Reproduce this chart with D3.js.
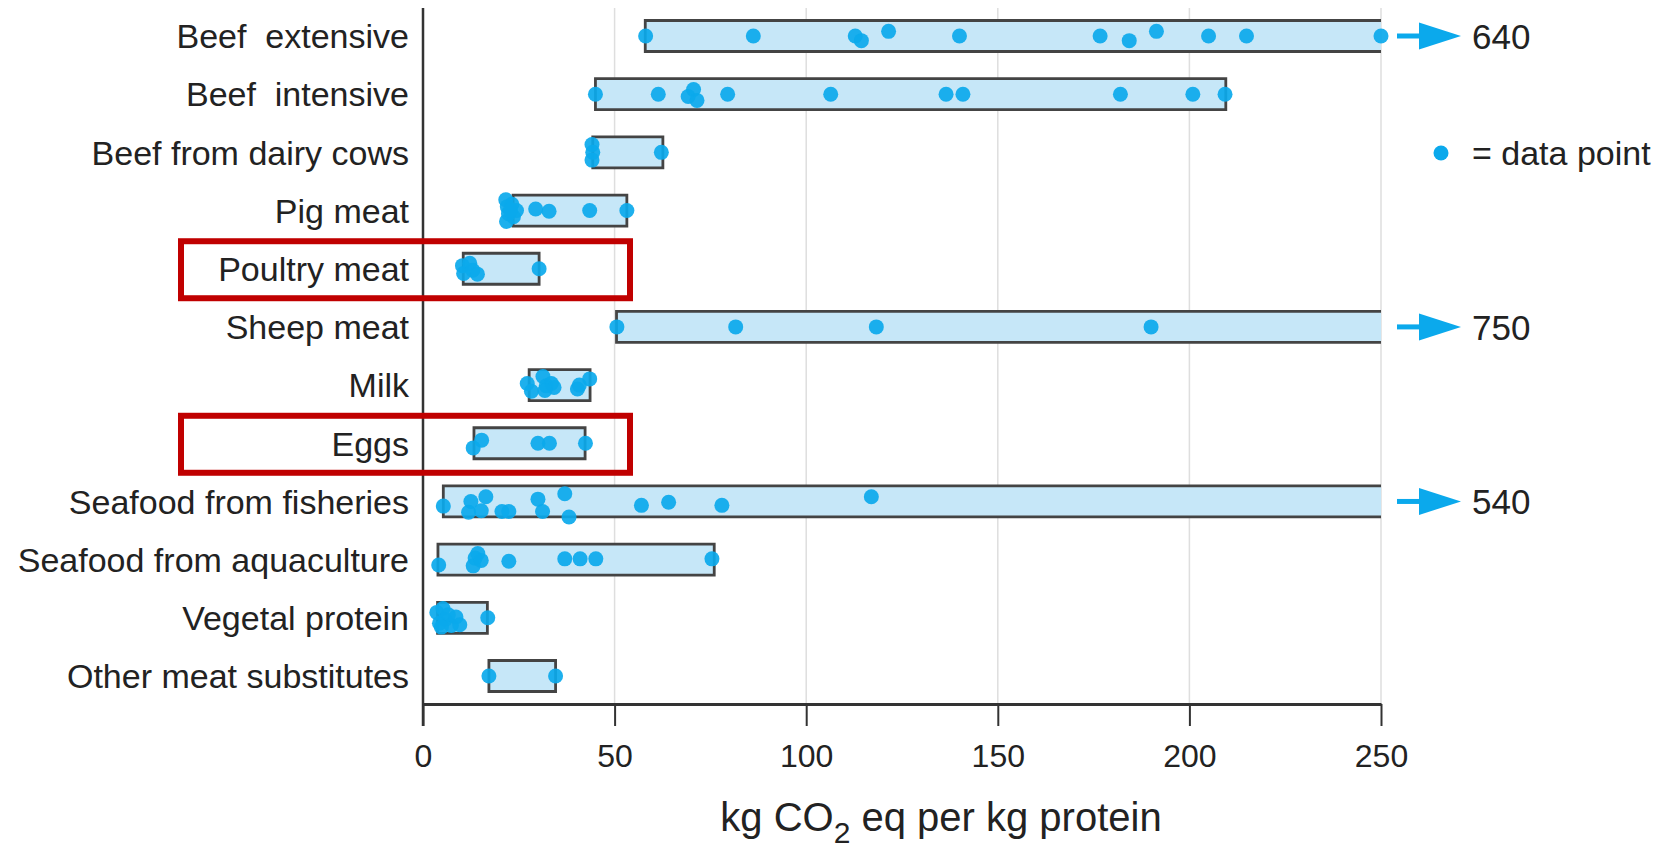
<!DOCTYPE html>
<html>
<head>
  <meta charset="utf-8">
  <title>kg CO2 eq per kg protein</title>
  <style>
    body { margin: 0; background: #fff; }
    svg text { font-family: "Liberation Sans", Arial, sans-serif; fill: #222; }
  </style>
</head>
<body>
  <div id="chart"></div>

  <script src="https://cdn.jsdelivr.net/npm/d3@7"></script>
  <script type="text/javascript">

  var categories = ["Beef  extensive", "Beef  intensive", "Beef from dairy cows", "Pig meat",
                    "Poultry meat", "Sheep meat", "Milk", "Eggs", "Seafood from fisheries",
                    "Seafood from aquaculture", "Vegetal protein", "Other meat substitutes"];

  // low / high end of each range (kg CO2 eq per kg protein)
  var rangeMin = [58, 45, 44.3, 23.5, 10.5, 50.5, 27.7, 13.3, 5.3, 3.9, 3.8, 17.2];
  var rangeMax = [640, 209.5, 62.6, 53.2, 30.3, 750, 43.6, 42.3, 540, 76, 16.8, 34.6];

  // data points: [value, jitter] (jitter = spread inside the bar, -1..1)
  var points = [
    [[58.1,0],[86.2,0],[112.8,0],[114.4,0.3],[121.5,-0.3],[140,0],[176.7,0],[184.3,0.3],[191.4,-0.3],[205,0],[214.9,0],[640,0]],
    [[45,0],[61.4,0],[69.2,0.15],[70.6,-0.3],[71.5,0.4],[79.5,0],[106.4,0],[136.5,0],[140.9,0],[182,0],[200.9,0],[209.3,0]],
    [[44.1,-0.5],[44.3,0],[44.1,0.5],[62.2,0]],
    [[21.6,-0.7],[22.0,-0.25],[22.3,0.2],[21.8,0.7],[23.2,-0.4],[23.6,0.4],[24.4,0],[22.8,0],[29.4,-0.1],[32.9,0.05],[43.5,0],[53.2,0]],
    [[10.3,-0.2],[10.6,0.3],[12.2,-0.35],[13,0.1],[14.2,0.35],[30.3,0]],
    [[50.6,0],[81.6,0],[118.3,0],[190,0]],
    [[27.2,-0.1],[28.3,0.4],[31.3,-0.55],[32.2,0.05],[33.5,-0.1],[34.2,0.15],[31.8,0.35],[40.3,0.25],[40.8,0],[43.5,-0.4]],
    [[13.1,0.3],[15.3,-0.2],[30,0],[33,0],[42.4,0]],
    [[5.3,0.3],[12.5,0],[11.9,0.7],[15.2,0.6],[16.4,-0.3],[20.6,0.65],[22.4,0.65],[30,-0.15],[31.2,0.65],[37,-0.5],[38.1,1.0],[57,0.25],[64.1,0.05],[78,0.25],[117,-0.3]],
    [[4.1,0.35],[13.1,0.4],[13.6,-0.1],[14.3,-0.4],[15.2,0.05],[22.4,0.1],[37,-0.05],[41,-0.05],[45.1,-0.05],[75.4,-0.05]],
    [[3.6,-0.35],[4.3,0.35],[5.2,-0.6],[5.8,0.1],[6.6,-0.2],[7.4,0.5],[8.6,-0.05],[9.6,0.45],[4.8,0.6],[16.9,0]],
    [[17.2,0],[34.6,0]]
  ];

  var xTicks = [0, 50, 100, 150, 200, 250];
  var highlighted = ["Poultry meat", "Eggs"];
  var axisTitle = ["kg CO", "2", " eq per kg protein"];
  var legendLabel = "= data point";

  var width = 1664, height = 849;
  var barH = 31, half = barH / 2;
  var dotColor = '#0ba9ec', barFill = '#c6e7f8', barStroke = '#444';

  var svg = d3.select('#chart')
              .append('svg')
              .attr('width', width)
              .attr('height', height);

  var x = d3.scaleLinear().domain([0, 250]).range([423, 1381]).clamp(true);
  var y = d3.scalePoint().domain(categories).range([36, 676]);

  var plotTop = 8, plotBottom = 704;

  // grid lines
  svg.append('g').selectAll('line')
    .data(xTicks.slice(1))
    .enter().append('line')
    .attr('x1', d => x(d)).attr('x2', d => x(d))
    .attr('y1', plotTop).attr('y2', plotBottom)
    .style('stroke', '#dedede')
    .style('stroke-width', 1.5);

  // bars
  var rows = categories.map(function(c, i){
    return {cat: c, lo: rangeMin[i], hi: rangeMax[i], pts: points[i]};
  });

  var row = svg.append('g').selectAll('g')
    .data(rows)
    .enter().append('g');

  row.append('rect')
    .attr('x', d => x(d.lo))
    .attr('y', d => y(d.cat) - half)
    .attr('width', d => x(d.hi) - x(d.lo))
    .attr('height', barH)
    .style('fill', barFill);

  row.append('path')
    .attr('d', function(d){
      var x0 = x(d.lo), x1 = x(d.hi), t = y(d.cat) - half, b = y(d.cat) + half;
      var p = 'M' + x1 + ',' + t + 'H' + x0 + 'V' + b + 'H' + x1;
      return d.hi > 250 ? p : p + 'Z';
    })
    .style('fill', 'none')
    .style('stroke', barStroke)
    .style('stroke-width', 2.8);

  row.selectAll('circle')
    .data(d => d.pts.map(p => ({v: p[0], j: p[1], cat: d.cat})))
    .enter().append('circle')
    .attr('cx', d => x(d.v))
    .attr('cy', d => y(d.cat) + d.j * half)
    .attr('r', 7.5)
    .style('fill', dotColor)
    .style('fill-opacity', 0.92);

  // arrows for ranges beyond the axis
  var over = rows.filter(d => d.hi > 250);
  var arrow = svg.append('g').selectAll('g')
    .data(over)
    .enter().append('g')
    .attr('transform', d => 'translate(' + x(250) + ',' + y(d.cat) + ')');

  arrow.append('line')
    .attr('x1', 16).attr('x2', 40)
    .style('stroke', dotColor)
    .style('stroke-width', 5);
  arrow.append('path')
    .attr('d', 'M38,-13.5L80,0L38,13.5Z')
    .style('fill', dotColor);
  arrow.append('text')
    .attr('x', 91)
    .attr('dy', '0.36em')
    .style('font-size', '35px')
    .text(d => d.hi);

  // axes
  svg.append('line')
    .attr('x1', x(0)).attr('x2', x(0))
    .attr('y1', plotTop).attr('y2', plotBottom + 22)
    .style('stroke', '#333')
    .style('stroke-width', 2.5);

  var xAxis = svg.append('g')
    .attr('transform', 'translate(0,' + plotBottom + ')')
    .call(d3.axisBottom(x).tickValues(xTicks).tickSize(22).tickPadding(18).tickSizeOuter(0));
  xAxis.select('.domain').style('stroke', '#333').style('stroke-width', 3);
  xAxis.selectAll('.tick line').style('stroke', '#333').style('stroke-width', 2);
  xAxis.selectAll('.tick text')
    .style('font-size', '32px')
    .style('font-family', '"Liberation Sans", Arial, sans-serif')
    .style('fill', '#222');

  // category labels
  svg.append('g').selectAll('text')
    .data(categories)
    .enter().append('text')
    .attr('x', 409)
    .attr('y', d => y(d))
    .attr('dy', '0.36em')
    .attr('text-anchor', 'end')
    .style('font-size', '34px')
    .style('white-space', 'pre')
    .text(d => d);

  // highlight boxes
  svg.append('g').selectAll('rect')
    .data(highlighted)
    .enter().append('rect')
    .attr('x', 181)
    .attr('y', d => y(d) - 28.5 + 1)
    .attr('width', 449)
    .attr('height', 57)
    .style('fill', 'none')
    .style('stroke', '#c00000')
    .style('stroke-width', 6);

  // legend
  var legY = 153;
  svg.append('circle')
    .attr('cx', 1441).attr('cy', legY).attr('r', 7.5)
    .style('fill', dotColor);
  svg.append('text')
    .attr('x', 1472).attr('y', legY).attr('dy', '0.36em')
    .style('font-size', '34px')
    .text(legendLabel);

  // axis title
  var title = svg.append('text')
    .attr('x', 941).attr('y', 831)
    .attr('text-anchor', 'middle')
    .style('font-size', '40px');
  title.append('tspan').text(axisTitle[0]);
  title.append('tspan').attr('dy', 12).style('font-size', '30px').text(axisTitle[1]);
  title.append('tspan').attr('dy', -12).text(axisTitle[2]);

  </script>
</body>
</html>
